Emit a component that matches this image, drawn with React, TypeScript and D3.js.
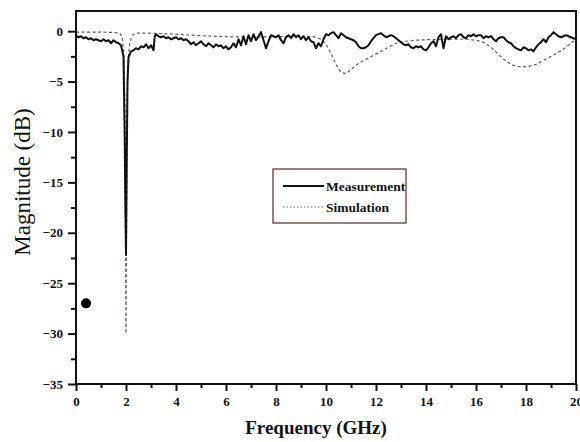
import React, { useRef, useEffect } from 'react';
import * as d3 from 'd3';

// measured response (GHz, dB)
const measFreq = [
  0, 0.1, 0.2, 0.3, 0.4, 0.5, 0.6, 0.7, 0.8, 0.9, 1.0, 1.1, 1.2, 1.3, 1.4, 1.5, 1.6, 1.7, 1.8, 1.9,
  1.95, 1.97, 2.0, 2.03, 2.06, 2.1, 2.2, 2.3, 2.4, 2.5, 2.6, 2.7, 2.8, 2.9, 3.0, 3.1, 3.15, 3.2, 3.3,
  3.4, 3.5, 3.6, 3.7, 3.8, 3.9, 4.0, 4.1, 4.2, 4.3, 4.4, 4.5, 4.6, 4.7, 4.8, 4.9, 5.0, 5.1, 5.2, 5.3,
  5.4, 5.5, 5.6, 5.7, 5.8, 5.9, 6.0, 6.1, 6.2, 6.3, 6.4, 6.5, 6.6, 6.7, 6.8, 6.9, 7.0, 7.1, 7.2, 7.3,
  7.4, 7.5, 7.6, 7.7, 7.8, 7.9, 8.0, 8.1, 8.2, 8.3, 8.4, 8.5, 8.6, 8.7, 8.8, 8.9, 9.0, 9.1, 9.2, 9.3,
  9.4, 9.5, 9.6, 9.7, 9.8, 9.9, 10.0, 10.1, 10.2, 10.3, 10.4, 10.5, 10.6, 10.7, 10.8, 10.9, 11.0,
  11.1, 11.2, 11.3, 11.4, 11.5, 11.6, 11.7, 11.8, 11.9, 12.0, 12.1, 12.2, 12.3, 12.4, 12.5, 12.6,
  12.7, 12.8, 12.9, 13.0, 13.1, 13.2, 13.3, 13.4, 13.5, 13.6, 13.7, 13.8, 13.9, 14.0, 14.1, 14.2,
  14.3, 14.4, 14.5, 14.6, 14.7, 14.8, 14.9, 15.0, 15.1, 15.2, 15.3, 15.4, 15.5, 15.6, 15.7, 15.8,
  15.9, 16.0, 16.1, 16.2, 16.3, 16.4, 16.5, 16.6, 16.7, 16.8, 16.9, 17.0, 17.1, 17.2, 17.3, 17.4,
  17.5, 17.6, 17.7, 17.8, 17.9, 18.0, 18.1, 18.2, 18.3, 18.4, 18.5, 18.6, 18.7, 18.8, 18.9, 19.0,
  19.1, 19.2, 19.3, 19.4, 19.5, 19.6, 19.7, 19.8, 19.9, 20.0,
];
const measDb = [
  -0.4, -0.6, -0.5, -0.7, -0.6, -0.8, -0.7, -0.9, -0.8, -0.9, -1.0, -0.8, -1.0, -0.9, -1.2, -0.9, -1.1, -1.2, -1.4, -2.5,
  -10.8, -16.5, -22.2, -12.9, -5.0, -2.6, -2.0, -1.9, -1.7, -1.8, -1.5, -1.6, -1.3, -1.7, -1.4, -1.9, -0.5, -0.3, -0.5,
  -0.6, -0.5, -0.7, -0.6, -0.8, -0.7, -0.6, -0.8, -0.7, -0.9, -0.8, -1.0, -1.3, -1.1, -1.4, -1.2, -1.0, -1.3, -1.5, -1.2,
  -1.4, -1.6, -1.3, -1.5, -1.4, -1.7, -1.5, -1.8, -1.6, -1.2, -1.6, -0.8, -1.4, -0.5, -1.3, -0.4, -1.0, -0.3, -0.9, -0.5,
  -0.1, -0.9, -1.7, -1.0, -0.4, -0.5, -0.6, -0.4, -0.9, -1.2, -0.6, -0.4, -0.7, -0.3, -0.6, -0.4, -0.8, -0.5, -0.9, -0.6,
  -1.0, -1.1, -1.7, -1.2, -1.5, -0.8, -0.3, -0.4, -0.2, -0.1, -0.4, -0.7, -0.2, -0.4, -0.6, -0.7, -0.8,
  -0.9, -1.1, -1.5, -1.7, -1.7, -1.6, -1.4, -1.0, -0.7, -0.4, -0.3, -0.2, -0.4, -0.6, -0.5, -0.4,
  -0.5, -0.7, -0.9, -1.1, -1.3, -1.4, -1.3, -1.6, -1.7, -1.5, -1.6, -1.5, -1.8, -1.9, -1.6, -1.2,
  -1.0, -1.5, -0.6, -0.3, -1.7, -0.5, -0.8, -0.6, -0.5, -0.7, -0.4, -0.3, -0.6, -0.7, -0.4, -0.5,
  -0.3, -0.5, -0.4, -0.4, -0.7, -0.5, -0.6, -0.5, -0.8, -1.0, -0.7, -0.6, -0.6, -0.9, -1.1, -1.2,
  -1.5, -1.7, -1.8, -1.9, -1.6, -1.7, -1.9, -1.8, -2.0, -1.6, -1.3, -1.1, -0.8, -1.1, -0.6, -0.4,
  -0.1, -0.3, -0.5, -0.6, -0.5, -0.4, -0.5, -0.6, -0.7, -0.8,
];

// simulated response (GHz, dB)
const simFreq = [
  0, 0.5, 1.0, 1.5, 1.75, 1.85, 1.92, 1.96, 2.0, 2.04, 2.08, 2.15, 2.25, 2.4, 3.0, 4.0, 5.0, 6.0,
  7.0, 8.0, 9.0, 9.5, 9.8, 10.0, 10.2, 10.4, 10.6, 10.8, 11.0, 11.3, 11.6, 11.9, 12.2, 12.5, 12.8,
  13.2, 13.6, 14.0, 15.0, 15.6, 16.0, 16.3, 16.6, 16.9, 17.2, 17.5, 17.8, 18.1, 18.4, 18.7, 19.0,
  19.3, 19.6, 19.8, 20.0,
];
const simDb = [
  -0.1, -0.1, -0.1, -0.12, -0.2, -0.6, -2.5, -8, -30.0, -8.5, -3.0, -1.2, -0.4, -0.2, -0.2, -0.3, -0.45, -0.55,
  -0.6, -0.55, -0.5, -0.55, -0.8, -1.3, -2.2, -3.3, -4.1, -4.2, -3.8, -3.2, -2.8, -2.4, -2.0, -1.6, -1.2,
  -1.0, -0.9, -0.85, -0.8, -0.8, -0.9, -1.1, -1.6, -2.3, -3.0, -3.4, -3.55, -3.5, -3.3, -2.9, -2.5,
  -2.1, -1.6, -1.2, -0.8,
];

const markerPoint = [0.4, -27];

const xTicks = [0, 2, 4, 6, 8, 10, 12, 14, 16, 18, 20];
const yTicks = [0, -5, -10, -15, -20, -25, -30, -35];
const legendLabels = ['Measurement', 'Simulation'];

const W = 580;
const H = 442;
const left = 76, right = 576, top = 11, bottom = 384;
const serif = "'Times New Roman', Times, 'Liberation Serif', 'DejaVu Serif', serif";

export default function App() {
  const ref = useRef(null);

  const x = d3.scaleLinear().domain([0, 20]).range([left, right]);
  const y = d3.scaleLinear().domain([-35, 2]).range([bottom, top]);

  useEffect(() => {
    const svg = d3.select(ref.current);
    const xMinor = d3.range(1, 20, 2);
    const yMinor = d3.range(-32.5, 0, 5);

    const styleAxis = (g) => {
      g.select('.domain').remove();
      g.selectAll('line').attr('stroke', '#111').attr('stroke-width', 2);
      g.selectAll('text')
        .style('font-family', serif)
        .attr('font-weight', 'bold')
        .attr('font-size', 13)
        .attr('fill', '#111');
    };

    svg.select('.x-axis')
      .attr('transform', `translate(0,${bottom})`)
      .call(d3.axisBottom(x).tickValues(xTicks).tickSize(7).tickPadding(6).tickFormat(d3.format('d')))
      .call(styleAxis);
    svg.select('.x-minor')
      .attr('transform', `translate(0,${bottom})`)
      .call(d3.axisBottom(x).tickValues(xMinor).tickSize(4).tickFormat(() => ''))
      .call(styleAxis);
    svg.select('.y-axis')
      .attr('transform', `translate(${left},0)`)
      .call(d3.axisLeft(y).tickValues(yTicks).tickSize(8).tickPadding(5).tickFormat(d3.format('d')))
      .call(styleAxis);
    svg.select('.y-minor')
      .attr('transform', `translate(${left},0)`)
      .call(d3.axisLeft(y).tickValues(yMinor).tickSize(5).tickFormat(() => ''))
      .call(styleAxis);
  }, []);

  const measLine = d3.line<number>()
    .x((d, i) => x(measFreq[i]))
    .y((d) => y(d));
  const simLine = d3.line<number>()
    .x((d, i) => x(simFreq[i]))
    .y((d) => y(d));

  const lx = 273, ly = 169;

  return (
    <div style={{ position: 'absolute', left: 0, top: 0 }}>
      <svg ref={ref} width={W} height={H} style={{ display: 'block', background: '#fff' }}>
        <defs>
          <clipPath id="plot-clip">
            <rect x={left} y={top} width={right - left} height={bottom - top} />
          </clipPath>
        </defs>

        <g clipPath="url(#plot-clip)">
          <path d={simLine(simDb) || ''} fill="none" stroke="#555b66" strokeWidth={1.2} strokeDasharray="3,2.5" />
          <path d={measLine(measDb) || ''} fill="none" stroke="#111" strokeWidth={2} strokeLinejoin="round" />
        </g>

        <circle cx={x(markerPoint[0])} cy={y(markerPoint[1])} r={5} fill="#000" />

        <rect x={left} y={top} width={right - left} height={bottom - top} fill="none" stroke="#111" strokeWidth={2} />

        <g className="x-minor" />
        <g className="x-axis" />
        <g className="y-minor" />
        <g className="y-axis" />

        {/* legend */}
        <rect x={lx} y={ly} width={133} height={54} fill="#fff" stroke="#5a2a20" strokeWidth={1.2} />
        <line x1={lx + 10} x2={lx + 51} y1={ly + 17} y2={ly + 17} stroke="#111" strokeWidth={2} />
        <line x1={lx + 10} x2={lx + 51} y1={ly + 38} y2={ly + 38} stroke="#7a6060" strokeWidth={1} strokeDasharray="1.5,2" />
        {legendLabels.map((t, i) => (
          <text key={t} x={lx + 53} y={ly + 22 + i * 21} style={{ fontFamily: serif }} fontWeight="bold" fontSize={13.5} fill="#111">
            {t}
          </text>
        ))}

        <text x={316} y={434} textAnchor="middle" style={{ fontFamily: serif }} fontWeight="bold" fontSize={19} fill="#111">
          Frequency (GHz)
        </text>
        <text
          transform="translate(30,182) rotate(-90)"
          textAnchor="middle"
          style={{ fontFamily: serif }}
          fontSize={23}
          fill="#111"
        >
          Magnitude (dB)
        </text>
      </svg>
    </div>
  );
}
